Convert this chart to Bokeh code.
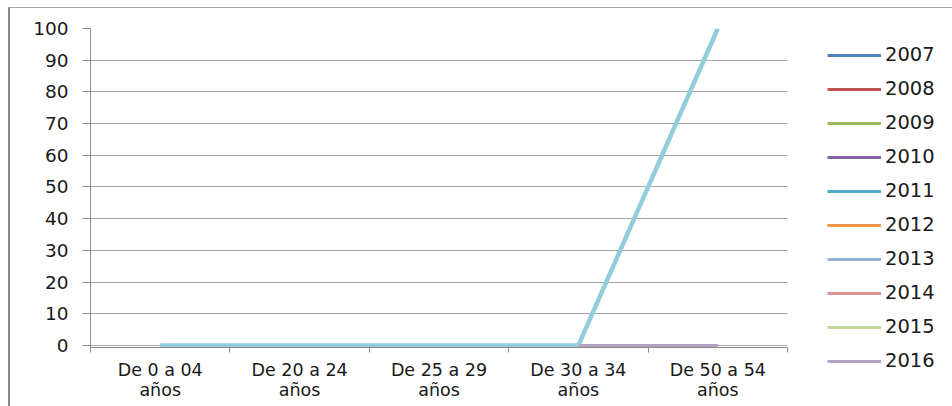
from bokeh.plotting import figure
from bokeh.models import (Range1d, FixedTicker, Legend, LegendItem)
from bokeh.layouts import row, column
from bokeh.embed import file_html
from bokeh.resources import INLINE

categories = ["De 0 a 04\naños", "De 20 a 24\naños", "De 25 a 29\naños",
              "De 30 a 34\naños", "De 50 a 54\naños"]
years = ["2007", "2008", "2009", "2010", "2011", "2012", "2013", "2014", "2015", "2016"]
colors = ["#4F81BD", "#C0504D", "#9BBB59", "#8064A2", "#4BACC6",
          "#F79646", "#95B3D7", "#D99694", "#C3D69B", "#B3A2C7"]
nan = float("nan")
series = {
    "2007": [nan, nan, nan, nan, nan],
    "2008": [nan, nan, nan, nan, nan],
    "2009": [nan, nan, nan, nan, nan],
    "2010": [nan, nan, nan, nan, nan],
    "2011": [nan, nan, nan, nan, nan],
    "2012": [nan, nan, nan, nan, nan],
    "2013": [nan, nan, nan, nan, nan],
    "2014": [nan, nan, nan, nan, nan],
    "2015": [nan, nan, nan, nan, nan],
    "2016": [nan, nan, nan, 0, 0],
}
extra_name = "2017"
extra_color = "#93CDDD"
extra_values = [0, 0, 0, 0, 100]
y_ticks = [0, 10, 20, 30, 40, 50, 60, 70, 80, 90, 100]

xs = [i + 0.5 for i in range(len(categories))]

FONT = "DejaVu Sans"
p = figure(width=790, height=398, output_backend="svg", toolbar_location=None,
           x_range=Range1d(0, len(categories)), y_range=Range1d(-0.65, 100),
           min_border_left=80, min_border_right=13, min_border_top=20, min_border_bottom=59)
p.outline_line_color = None
p.background_fill_color = "white"
p.border_fill_color = "white"

p.xgrid.grid_line_color = None
p.ygrid.grid_line_color = "#A6A6A6"
p.ygrid.grid_line_width = 1

p.yaxis.ticker = FixedTicker(ticks=y_ticks)
p.yaxis.axis_line_color = "#8C8C8C"
p.yaxis.major_tick_line_color = "#8C8C8C"
p.yaxis.major_tick_out = 8
p.yaxis.major_tick_in = 0
p.yaxis.minor_tick_line_color = None
p.yaxis.major_label_text_font = FONT
p.yaxis.major_label_text_font_size = "18.5px"
p.yaxis.major_label_text_color = "#1a1a1a"
p.yaxis.major_label_standoff = 14

p.xaxis.ticker = FixedTicker(ticks=xs, minor_ticks=list(range(len(categories) + 1)))
p.xaxis.major_label_overrides = {x: c for x, c in zip(xs, categories)}
p.xaxis.axis_line_color = "#8C8C8C"
p.xaxis.major_tick_line_color = None
p.xaxis.minor_tick_line_color = "#8C8C8C"
p.xaxis.minor_tick_out = 5
p.xaxis.minor_tick_in = 0
p.xaxis.major_label_text_font = FONT
p.xaxis.major_label_text_font_size = "17.5px"
p.xaxis.major_label_text_line_height = 1.0
p.xaxis.major_label_text_color = "#1a1a1a"
p.xaxis.major_label_standoff = 6

for yr, col in zip(years, colors):
    p.line(xs, series[yr], line_color=col, line_width=3)
p.line(xs, extra_values, line_color=extra_color, line_width=4.5)
p.line(xs, series["2016"], line_color=colors[-1], line_width=3)

# legend panel
q = figure(width=152, height=398, output_backend="svg", toolbar_location=None,
           x_range=Range1d(0, 1), y_range=Range1d(0, 1),
           min_border_left=0, min_border_right=0, min_border_top=0, min_border_bottom=0)
q.axis.visible = False
q.grid.visible = False
q.outline_line_color = None
q.background_fill_color = "white"
q.border_fill_color = "white"
items = []
for yr, col in zip(years, colors):
    r = q.line([nan, nan], [nan, nan], line_color=col, line_width=3)
    items.append(LegendItem(label=yr, renderers=[r]))
legend = Legend(items=items, location=(27, 34), padding=0, margin=0,
                glyph_width=54, glyph_height=20, spacing=11, label_standoff=4,
                label_height=20, label_text_font=FONT, label_text_font_size="19.5px",
                label_text_color="#1a1a1a", border_line_color=None,
                background_fill_alpha=0)
q.add_layout(legend, "center")

layout = row(p, column(q), spacing=0,
             styles={"margin-left": "8px", "margin-top": "7px",
                     "border-left": "2px solid #8a8a8a", "border-top": "1px solid #a6a6a6"})

open("out.html", "w").write(file_html(layout, INLINE))
